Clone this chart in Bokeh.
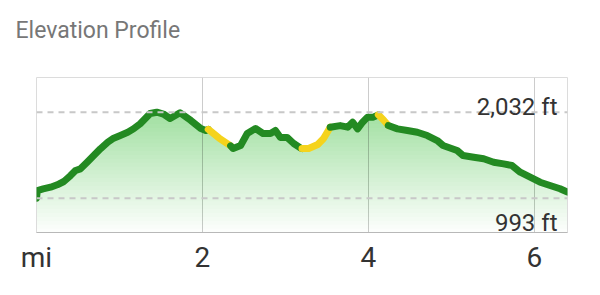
import numpy as np
from bokeh.plotting import figure
from bokeh.models import Span, Label, FixedTicker, Range1d, Title
from bokeh.embed import file_html
from bokeh.resources import INLINE

# ---- data ----
dist_mi = [0.00, 0.01, 0.08, 0.17, 0.25, 0.33, 0.41, 0.47, 0.53, 0.61, 0.69,
           0.77, 0.86, 0.93, 1.01, 1.10, 1.17, 1.25, 1.37, 1.45, 1.53, 1.61,
           1.73, 1.86, 1.98, 2.04, 2.07, 2.20, 2.34, 2.37, 2.46, 2.54, 2.64,
           2.73, 2.82, 2.88, 2.94, 3.02, 3.10, 3.18, 3.20, 3.28, 3.39, 3.46,
           3.54, 3.66, 3.75, 3.81, 3.87, 3.93, 3.99, 4.06, 4.12, 4.18, 4.24,
           4.35, 4.47, 4.59, 4.71, 4.83, 4.90, 5.07, 5.14, 5.27, 5.39, 5.51,
           5.63, 5.73, 5.83, 5.95, 6.07, 6.19, 6.31, 6.40]
elev_ft = [993, 1086, 1105, 1126, 1155, 1195, 1267, 1328, 1348, 1428, 1509,
           1590, 1670, 1718, 1751, 1790, 1831, 1892, 2016, 2032, 2010, 1956,
           2025, 1932, 1835, 1811, 1825, 1720, 1625, 1593, 1630, 1774, 1835,
           1775, 1775, 1811, 1727, 1727, 1654, 1600, 1593, 1593, 1642, 1714,
           1851, 1870, 1851, 1911, 1831, 1911, 1972, 1972, 2000, 1940, 1871,
           1831, 1811, 1790, 1750, 1690, 1630, 1569, 1509, 1488, 1469, 1428,
           1408, 1388, 1307, 1247, 1186, 1147, 1107, 1066]
steep_ranges_mi = [(2.07, 2.34), (3.20, 3.54), (4.12, 4.24)]
x_ticks = [0, 2, 4, 6]
x_tick_labels = {0: "mi", 2: "2", 4: "4", 6: "6"}
ref_elev_ft = [2032, 993]
ref_elev_text = ["2,032 ft", "993 ft"]
title_text = "Elevation Profile"

x = np.array(dist_mi, dtype=float)
y = np.array(elev_ft, dtype=float)

Y_LO, Y_HI = 579, 2451
GREEN = "#238a22"
YELLOW = "#f5d31c"
FONT = "Roboto"

p = figure(width=600, height=295, output_backend="svg", toolbar_location=None,
           title=None,
           x_range=Range1d(x[0], x[-1]), y_range=Range1d(Y_LO, Y_HI),
           y_axis_location=None,
           min_border_left=36, min_border_right=33,
           min_border_top=77, min_border_bottom=63)
p.background_fill_color = "white"
p.border_fill_color = "white"
p.outline_line_color = "#dcdcdc"
p.outline_line_width = 1

# spacer (closest to frame) then the visible title above it
p.add_layout(Title(text=" ", text_font_size="2px", standoff=18), "above")
p.add_layout(Title(text=title_text, text_font=FONT, text_font_size="23px",
                   text_font_style="normal", text_color="#777777",
                   offset=-21, standoff=24), "above")

# grid / axis
p.ygrid.grid_line_color = None
p.xgrid.ticker = FixedTicker(ticks=x_ticks)
p.xgrid.grid_line_color = "#cccccc"
p.xgrid.grid_line_width = 1
ax = p.xaxis[0]
ax.ticker = FixedTicker(ticks=x_ticks)
ax.major_label_overrides = x_tick_labels
ax.major_label_text_font = FONT
ax.major_label_text_font_size = "28px"
ax.major_label_text_color = "#333333"
ax.major_label_standoff = 2
ax.axis_line_color = "#b8b8b8"
ax.major_tick_line_color = None
ax.minor_tick_line_color = None

# gradient fill under the profile (stacked translucent layers)
levels = np.linspace(Y_LO, Y_HI, 40, endpoint=False)
for lv in levels:
    p.varea(x=x, y1=np.minimum(y, lv), y2=y, fill_color="#2a9a2a",
            fill_alpha=0.0105)

# profile line, split into green / yellow runs
def is_steep(a, b):
    m = 0.5 * (a + b)
    return any(lo <= m <= hi for lo, hi in steep_ranges_mi)

xs, ys, cols = [], [], []
cur_x, cur_y = [x[0]], [y[0]]
cur_c = is_steep(x[0], x[1])
for i in range(len(x) - 1):
    c = is_steep(x[i], x[i + 1])
    if c != cur_c:
        xs.append(cur_x); ys.append(cur_y); cols.append(YELLOW if cur_c else GREEN)
        cur_x, cur_y, cur_c = [x[i]], [y[i]], c
    cur_x.append(x[i + 1]); cur_y.append(y[i + 1])
xs.append(cur_x); ys.append(cur_y); cols.append(YELLOW if cur_c else GREEN)

p.multi_line(xs=xs, ys=ys, line_color=cols, line_width=7,
             line_join="round", line_cap="round")

# reference lines and labels
offsets = [5, -25]
for val, txt, off in zip(ref_elev_ft, ref_elev_text, offsets):
    p.add_layout(Span(location=val, dimension="width", line_color="#c8c8c8",
                      line_width=2, line_dash="6 5"))
    p.add_layout(Label(x=x[-1], y=val, x_offset=-10, y_offset=off, text=txt,
                       text_align="right", text_baseline="alphabetic",
                       text_font=FONT, text_font_size="24px",
                       text_color="#333333"))

open("out.html", "w").write(file_html(p, INLINE))
